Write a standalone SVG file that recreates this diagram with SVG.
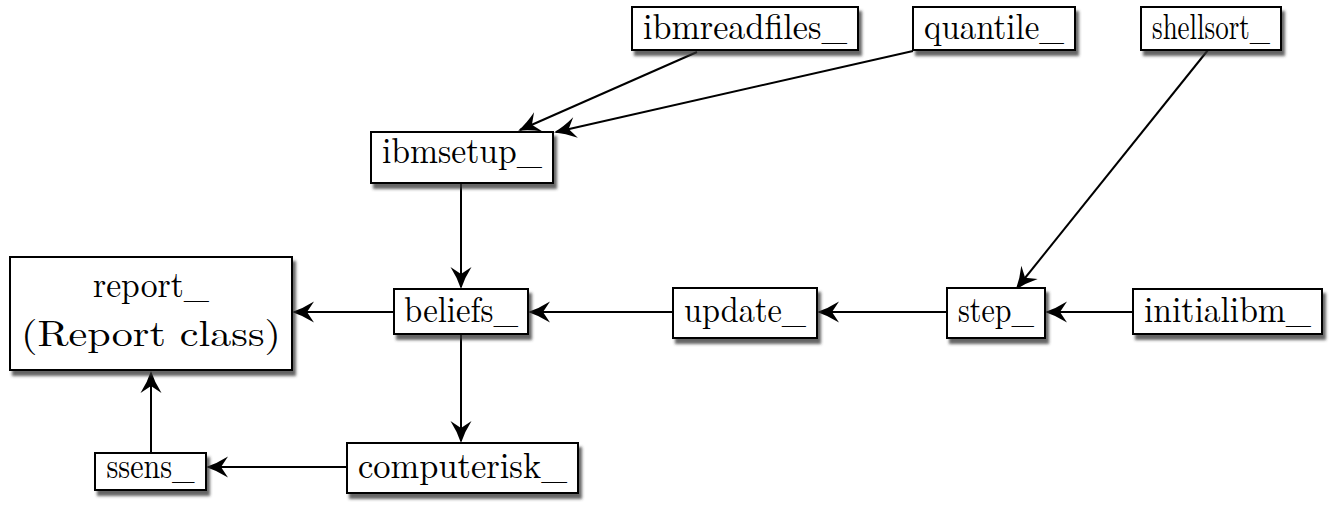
<svg xmlns="http://www.w3.org/2000/svg" width="1341" height="506" viewBox="0 0 1341 506">
<style>
.box{fill:#ffffff;stroke:#000000;stroke-width:2;filter:url(#sh)}
.lbl{font-family:"Latin Modern Roman","Liberation Serif",serif;font-size:36px;fill:#000000;text-anchor:middle}
.edge{stroke:#000000;stroke-width:2;fill:none;marker-end:url(#ah)}
</style>
<defs>
<filter id="sh" x="-10%" y="-20%" width="130%" height="160%">
<feDropShadow dx="3" dy="5" stdDeviation="1.6" flood-color="#333333" flood-opacity="0.75"/>
</filter>
<marker id="ah" markerUnits="userSpaceOnUse" markerWidth="30" markerHeight="30" viewBox="-26 -13 30 26" refX="0" refY="0" orient="auto">
<path d="M2,0 Q-9,-3.5 -20,-10.5 L-13,0 L-20,10.5 Q-9,3.5 2,0 Z" fill="#000000"/>
</marker>
</defs>
<g id="connectors">
<line class="edge" x1="697" y1="52" x2="520" y2="130"/>
<line class="edge" x1="913" y1="51" x2="556" y2="132"/>
<line class="edge" x1="1208" y1="50" x2="1017" y2="288"/>
<line class="edge" x1="461" y1="184" x2="461" y2="287"/>
<line class="edge" x1="394" y1="312" x2="294" y2="312"/>
<line class="edge" x1="672" y1="312" x2="530" y2="312"/>
<line class="edge" x1="946" y1="312" x2="819" y2="312"/>
<line class="edge" x1="1132" y1="312" x2="1047" y2="312"/>
<line class="edge" x1="461" y1="334" x2="461" y2="441"/>
<line class="edge" x1="347" y1="467" x2="208" y2="467"/>
<line class="edge" x1="151" y1="452" x2="151" y2="373"/>
</g>
<g id="ibmreadfiles">
<rect class="box" x="632" y="7" width="226" height="43"/>
<text class="lbl" x="745" y="39" textLength="204" lengthAdjust="spacingAndGlyphs">ibmreadfiles_</text>
</g>
<g id="quantile">
<rect class="box" x="913" y="7" width="162" height="43"/>
<text class="lbl" x="994" y="39" textLength="140" lengthAdjust="spacingAndGlyphs">quantile_</text>
</g>
<g id="shellsort">
<rect class="box" x="1141" y="7" width="140" height="43"/>
<text class="lbl" x="1211" y="39" textLength="118" lengthAdjust="spacingAndGlyphs">shellsort_</text>
</g>
<g id="ibmsetup">
<rect class="box" x="371" y="132" width="182" height="51"/>
<text class="lbl" x="462" y="163" textLength="160" lengthAdjust="spacingAndGlyphs">ibmsetup_</text>
</g>
<g id="report">
<rect class="box" x="10" y="257" width="282" height="113"/>
<text class="lbl" x="151" y="297" textLength="116" lengthAdjust="spacingAndGlyphs">report_</text>
<text class="lbl" x="151" y="346" textLength="260" lengthAdjust="spacingAndGlyphs">(Report class)</text>
</g>
<g id="beliefs">
<rect class="box" x="394" y="289" width="134" height="45"/>
<text class="lbl" x="461" y="322" textLength="114" lengthAdjust="spacingAndGlyphs">beliefs_</text>
</g>
<g id="update">
<rect class="box" x="673" y="288" width="144" height="50"/>
<text class="lbl" x="745" y="322" textLength="122" lengthAdjust="spacingAndGlyphs">update_</text>
</g>
<g id="step">
<rect class="box" x="947" y="288" width="98" height="50"/>
<text class="lbl" x="996" y="322" textLength="76" lengthAdjust="spacingAndGlyphs">step_</text>
</g>
<g id="initialibm">
<rect class="box" x="1133" y="289" width="189" height="45"/>
<text class="lbl" x="1227.5" y="322" textLength="167" lengthAdjust="spacingAndGlyphs">initialibm_</text>
</g>
<g id="ssens">
<rect class="box" x="95" y="453" width="111" height="37"/>
<text class="lbl" x="150.5" y="478" textLength="88" lengthAdjust="spacingAndGlyphs">ssens_</text>
</g>
<g id="computerisk">
<rect class="box" x="347" y="443" width="231" height="50"/>
<text class="lbl" x="462.5" y="478" textLength="209" lengthAdjust="spacingAndGlyphs">computerisk_</text>
</g>
</svg>
